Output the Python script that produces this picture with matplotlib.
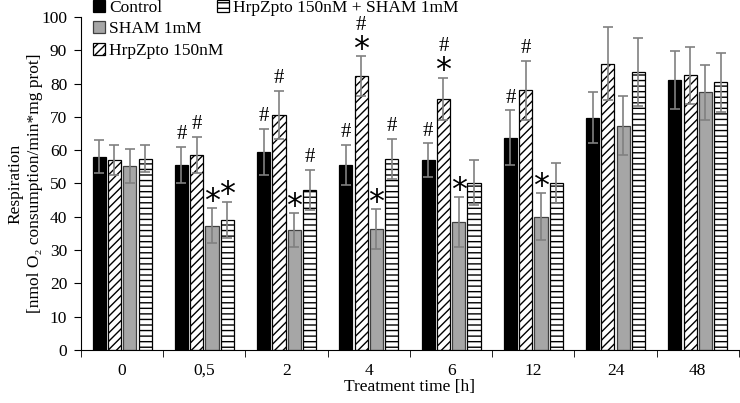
import matplotlib.pyplot as plt
import numpy as np

plt.rcParams['font.family'] = ['Liberation Serif', 'DejaVu Serif']
plt.rcParams['hatch.linewidth'] = 1.0

# data
times = ['0', '0,5', '2', '4', '6', '12', '24', '48']
series = ['Control', 'HrpZpto 150nM', 'SHAM 1mM', 'HrpZpto 150nM + SHAM 1mM']

control = [58.0, 55.5, 59.4, 55.5, 57.0, 63.8, 69.8, 81.0]
hrpz = [57.0, 58.5, 70.5, 82.3, 75.4, 78.0, 86.0, 82.5]
sham = [55.2, 37.3, 36.0, 36.3, 38.3, 40.0, 67.4, 77.4]
hrpz_sham = [57.4, 39.0, 48.0, 57.4, 50.2, 50.2, 83.5, 80.4]

control_err = [5.0, 5.5, 7.0, 6.0, 5.0, 8.2, 7.8, 8.7]
hrpz_err = [4.5, 5.5, 7.3, 6.0, 6.4, 8.8, 11.0, 8.5]
sham_err = [5.0, 5.3, 5.0, 6.0, 7.5, 7.0, 9.0, 8.3]
hrpz_sham_err = [4.0, 5.5, 6.0, 6.0, 6.8, 6.0, 10.3, 8.9]

# significance marks, listed bottom to top
control_marks = ['', '#', '#', '#', '#', '#', '', '']
hrpz_marks = ['', '#', '#', '*#', '*#', '#', '', '']
sham_marks = ['', '*', '*', '*', '*', '*', '', '']
hrpz_sham_marks = ['', '*', '#', '#', '', '', '', '']

values = [control, hrpz, sham, hrpz_sham]
errors = [control_err, hrpz_err, sham_err, hrpz_sham_err]
marks = [control_marks, hrpz_marks, sham_marks, hrpz_sham_marks]
styles = [
    dict(color='black', edgecolor='black'),
    dict(color='white', edgecolor='black', hatch='////'),
    dict(color='#a6a6a6', edgecolor='#404040'),
    dict(color='white', edgecolor='black', hatch='---'),
]

fig = plt.figure(figsize=(7.4, 4.03), dpi=100)
ax = fig.add_axes([0.1095, 0.1315, 0.889, 0.8265])

x = np.arange(len(times))
width = 0.16
step = 0.186
bars = []
for i in range(4):
    pos = x + (i - 1.5) * step
    b = ax.bar(pos, values[i], width, linewidth=0.9, label=series[i], zorder=2, **styles[i])
    bars.append(b)
    ax.errorbar(pos, values[i], yerr=errors[i], fmt='none', ecolor='#808080',
                elinewidth=1.2, capsize=3.5, capthick=1.2, zorder=3)
    for j, m in enumerate(marks[i]):
        y = values[i][j] + errors[i][j] + 0.8
        for ch in m:
            if ch == '*':
                ax.text(pos[j], y - 3.4, '*', ha='center', va='bottom', fontsize=23,
                        family='DejaVu Sans')
                y += 5.6
            else:
                ax.text(pos[j], y, '#', ha='center', va='bottom', fontsize=15)
                y += 5.3

ax.set_xlim(-0.5, len(times) - 0.5)
ax.set_ylim(0, 100)
ax.set_yticks(np.arange(0, 101, 10))
ax.set_xticks(x)
ax.set_xticklabels(times)
ax.set_xticks(np.arange(len(times) + 1) - 0.5, minor=True)
ax.tick_params(axis='x', which='major', length=0, pad=9)
ax.tick_params(axis='x', which='minor', length=5, direction='out')
ax.tick_params(axis='y', length=5, direction='out', pad=5)
ax.tick_params(labelsize=12.5)
for s in ['top', 'right']:
    ax.spines[s].set_visible(False)

ax.set_xlabel('Treatment time [h]', fontsize=12.5, labelpad=0)
ax.set_ylabel('Respiration\n[nmol O\u2082 consumption/min*mg prot]', fontsize=12.5,
              labelpad=-1, linespacing=1.25)

# legend: three entries in the first column, one in the second
blank = plt.Rectangle((0, 0), 1, 1, fill=False, edgecolor='none')
handles = [bars[0], bars[2], bars[1], bars[3], blank, blank]
labels = [series[0], series[2], series[1], series[3], '', '']
ax.legend(handles, labels, ncol=2, loc='upper left', bbox_to_anchor=(0.007, 1.072),
          frameon=False, fontsize=12.5, handlelength=0.7, handleheight=0.7,
          handletextpad=0.25, labelspacing=0.3, columnspacing=-0.4, borderaxespad=0)

fig.savefig('out.png', dpi=100)
